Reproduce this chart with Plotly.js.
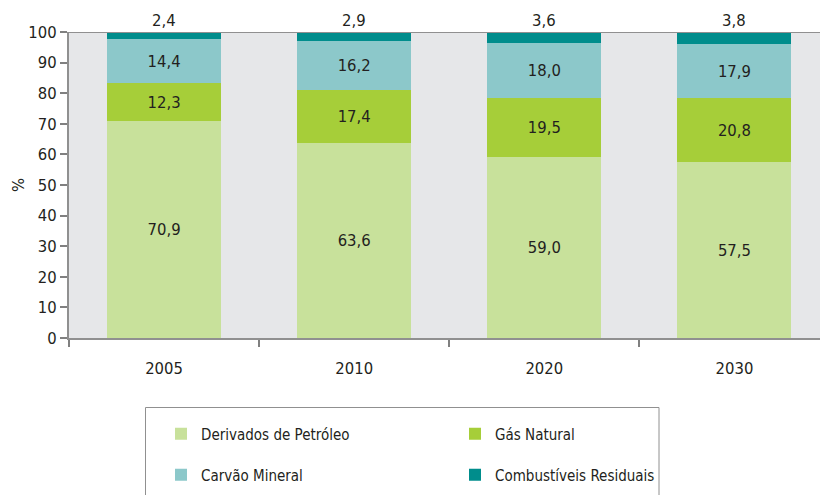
<!DOCTYPE html>
<html><head><meta charset="utf-8">
<script src="https://cdn.plot.ly/plotly-3.0.1.min.js"></script>
<style>body{margin:0}#c{width:820px;height:495px}</style>
</head><body><div id="c"></div>
<script>
const years = ['2005', '2010', '2020', '2030'];
const derivados = [70.9, 63.6, 59.0, 57.5];
const gasNatural = [12.3, 17.4, 19.5, 20.8];
const carvao = [14.4, 16.2, 18.0, 17.9];
const residuais = [2.4, 2.9, 3.6, 3.8];
const seriesNames = ['Derivados de Petróleo', 'Gás Natural', 'Carvão Mineral', 'Combustíveis Residuais'];
const colors = ['#c8e19b', '#a6ce39', '#8cc8ca', '#008d8c'];

const fmt = v => v.toFixed(1).replace('.', ',');
const font = 'DejaVu Sans Condensed, Open Sans, sans-serif';
const fs = 16.5;
const txt = '#231f20';
const all = [derivados, gasNatural, carvao, residuais];
const legendOf = ['legend', 'legend', 'legend2', 'legend2'];

const traces = all.map((vals, i) => ({
  type: 'bar', x: years, y: vals, name: seriesNames[i],
  legend: legendOf[i],
  marker: {color: colors[i], line: {width: 0}},
  width: 0.6,
  text: i < 3 ? vals.map(fmt) : vals.map(() => ''),
  textposition: i < 3 ? 'inside' : 'none',
  insidetextanchor: 'middle',
  textfont: {family: font, size: fs, color: txt},
  hoverinfo: 'none'
}));

const annotations = years.map((y, k) => ({
  x: k, y: 1, xref: 'x', yref: 'paper', yanchor: 'bottom', yshift: 0,
  text: fmt(residuais[k]), showarrow: false,
  font: {family: font, size: fs, color: txt}
}));

// plot area: x 69..820 (751px), y 32..338 (306px)
const px = x => (x - 69) / 751;
const py = y => (338 - y) / 306;

const legendBase = {
  orientation: 'h', traceorder: 'normal',
  x: px(161), xanchor: 'left', yanchor: 'middle',
  entrywidth: 249, entrywidthmode: 'pixels',
  borderwidth: 0, bgcolor: 'rgba(0,0,0,0)',
  font: {family: font, size: 15, color: txt},
  itemwidth: 30
};

const layout = {
  width: 820, height: 495,
  margin: {l: 69, r: 0, t: 32, b: 157, autoexpand: false},
  paper_bgcolor: '#ffffff', plot_bgcolor: '#e6e7e9',
  barmode: 'stack', bargap: 0.4,
  font: {family: font, size: fs, color: txt},
  xaxis: {
    type: 'category', range: [-0.5, 3.45],
    tickson: 'boundaries', ticks: 'outside', ticklen: 7, tickcolor: '#808080', tickwidth: 2,
    showline: true, linecolor: '#909090', linewidth: 2,
    showgrid: false, tickfont: {family: font, size: fs, color: txt},
    ticklabelstandoff: 14
  },
  yaxis: {
    range: [0, 100], dtick: 10, tick0: 0,
    ticks: 'outside', ticklen: 7, tickcolor: '#808080', tickwidth: 2,
    showline: true, linecolor: '#909090', linewidth: 2,
    showgrid: false, zeroline: false,
    tickfont: {family: font, size: fs, color: txt},
    title: {text: '%', font: {family: font, size: fs, color: txt}, standoff: 0}
  },
  shapes: [
    {type: 'line', xref: 'paper', yref: 'y', x0: 0, x1: 1, y0: 100, y1: 100,
     line: {color: '#909090', width: 2}, layer: 'above'},
    {type: 'rect', xref: 'paper', yref: 'paper', x0: px(145.5), x1: px(659), y0: py(407.5), y1: py(520),
     line: {color: '#909090', width: 1}, fillcolor: 'rgba(0,0,0,0)', layer: 'below'}
  ],
  annotations: annotations,
  showlegend: true,
  legend: Object.assign({}, legendBase, {y: py(434)}),
  legend2: Object.assign({}, legendBase, {y: py(475)})
};
Plotly.newPlot('c', traces, layout, {displayModeBar: false, staticPlot: true});
</script></body></html>
